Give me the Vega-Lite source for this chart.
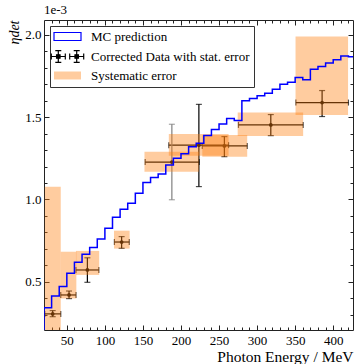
{
  "$schema": "https://vega.github.io/schema/vega-lite/v6.json",
  "width": 309,
  "height": 310,
  "autosize": {"type": "none"},
  "padding": {"left": 44, "top": 20, "right": 1, "bottom": 34},
  "title": {"text": "1e-3", "anchor": "start", "frame": "group", "fontSize": 13, "font": "Liberation Serif", "fontWeight": "normal", "color": "black", "offset": 3},
  "config": {
    "font": "Liberation Serif",
    "view": {"stroke": "#222", "strokeWidth": 1},
    "axis": {"labelFont": "Liberation Serif", "labelFontSize": 13, "labelColor": "black", "tickColor": "#222", "tickWidth": 1, "grid": false, "domain": false, "titleFont": "Liberation Serif", "titleFontWeight": "normal", "titleColor": "black"},
    "legend": {"orient": "top-left", "offset": 6, "labelFont": "Liberation Serif", "labelFontSize": 13, "labelColor": "black", "symbolSize": 100, "symbolOffset": 7, "symbolStrokeWidth": 1.2, "symbolOpacity": 1, "labelOffset": 17, "rowPadding": 4, "padding": 4, "strokeColor": "#333", "fillColor": "white", "cornerRadius": 0, "labelLimit": 300}
  },
  "datasets": {
    "mc": [
      {"e": 20, "mc": 0.0},
      {"e": 20, "mc": 0.342}, {"e": 30, "mc": 0.413}, {"e": 40, "mc": 0.470}, {"e": 50, "mc": 0.551},
      {"e": 60, "mc": 0.618}, {"e": 70, "mc": 0.667}, {"e": 80, "mc": 0.707}, {"e": 90, "mc": 0.760},
      {"e": 100, "mc": 0.825}, {"e": 110, "mc": 0.892}, {"e": 120, "mc": 0.940}, {"e": 130, "mc": 0.977},
      {"e": 140, "mc": 1.038}, {"e": 150, "mc": 1.103}, {"e": 160, "mc": 1.134}, {"e": 170, "mc": 1.155},
      {"e": 180, "mc": 1.209}, {"e": 190, "mc": 1.251}, {"e": 200, "mc": 1.277}, {"e": 210, "mc": 1.321},
      {"e": 220, "mc": 1.342}, {"e": 230, "mc": 1.389}, {"e": 240, "mc": 1.425}, {"e": 250, "mc": 1.459},
      {"e": 260, "mc": 1.492}, {"e": 270, "mc": 1.480}, {"e": 280, "mc": 1.600}, {"e": 290, "mc": 1.613},
      {"e": 300, "mc": 1.630}, {"e": 310, "mc": 1.646}, {"e": 320, "mc": 1.670}, {"e": 330, "mc": 1.700},
      {"e": 340, "mc": 1.712}, {"e": 350, "mc": 1.742}, {"e": 360, "mc": 1.727}, {"e": 370, "mc": 1.792},
      {"e": 380, "mc": 1.808}, {"e": 390, "mc": 1.830}, {"e": 400, "mc": 1.850}, {"e": 410, "mc": 1.872},
      {"e": 420, "mc": 1.868}, {"e": 426, "mc": 1.868}
    ],
    "pts": [
      {"e": 31.4, "v": 0.304, "elo": 21, "ehi": 42, "vlo": 0.287, "vhi": 0.324},
      {"e": 52.9, "v": 0.419, "elo": 42, "ehi": 62, "vlo": 0.397, "vhi": 0.443},
      {"e": 77, "v": 0.571, "elo": 62, "ehi": 92, "vlo": 0.496, "vhi": 0.645},
      {"e": 122, "v": 0.741, "elo": 112.5, "ehi": 132, "vlo": 0.703, "vhi": 0.774},
      {"e": 188, "v": 1.227, "elo": 153, "ehi": 224, "vlo": 0.998, "vhi": 1.457},
      {"e": 223.5, "v": 1.330, "elo": 184, "ehi": 262.5, "vlo": 1.078, "vhi": 1.578},
      {"e": 257, "v": 1.325, "elo": 228, "ehi": 287, "vlo": 1.260, "vhi": 1.382},
      {"e": 318, "v": 1.453, "elo": 275.5, "ehi": 360.5, "vlo": 1.388, "vhi": 1.516},
      {"e": 385.4, "v": 1.589, "elo": 351, "ehi": 420, "vlo": 1.504, "vhi": 1.662}
    ],
    "sys": [
      {"elo": 21, "ehi": 42, "vlo": 0.15, "vhi": 1.077},
      {"elo": 42, "ehi": 62.5, "vlo": 0.398, "vhi": 0.682},
      {"elo": 62, "ehi": 92.5, "vlo": 0.541, "vhi": 0.687},
      {"elo": 112, "ehi": 132.5, "vlo": 0.701, "vhi": 0.810},
      {"elo": 152, "ehi": 223.5, "vlo": 1.169, "vhi": 1.290},
      {"elo": 184, "ehi": 262.5, "vlo": 1.265, "vhi": 1.398},
      {"elo": 228, "ehi": 287, "vlo": 1.260, "vhi": 1.392},
      {"elo": 274.5, "ehi": 360.5, "vlo": 1.386, "vhi": 1.528},
      {"elo": 350.5, "ehi": 419.5, "vlo": 1.514, "vhi": 1.990}
    ],
    "leg": [
      {"series": "MC prediction"},
      {"series": "Corrected Data with stat. error"},
      {"series": "Systematic error"}
    ]
  },
  "resolve": {"axis": {"x": "independent", "y": "independent"}},
  "layer": [
    {
      "data": {"name": "pts"},
      "mark": {"type": "rule", "strokeWidth": 1.2, "color": "black"},
      "encoding": {
        "x": {"field": "elo", "type": "quantitative", "scale": {"domain": [20, 426], "nice": false, "zero": false},
              "axis": {"orient": "bottom", "values": [50, 100, 150, 200, 250, 300, 350, 400], "tickSize": -5, "labelPadding": 9, "labelFlush": false,
                       "title": "Photon Energy / MeV", "titleFontSize": 15.5, "titleAnchor": "end", "titleAlign": "right", "titleBaseline": "alphabetic", "titleX": 309, "titleY": 31}},
        "x2": {"field": "ehi"},
        "y": {"field": "v", "type": "quantitative", "scale": {"domain": [0.206, 2.091], "nice": false, "zero": false},
              "axis": {"orient": "left", "values": [0.5, 1.0, 1.5, 2.0], "format": ".1f", "tickSize": -5, "labelPadding": 8,
                       "title": "ηdet", "titleFontSize": 14, "titleFontStyle": "italic", "titleAngle": 270, "titleAlign": "right", "titleBaseline": "alphabetic", "titleX": -26, "titleY": 0}}
      }
    },
    {
      "data": {"name": "pts"},
      "mark": {"type": "rule", "strokeWidth": 1.2},
      "encoding": {
        "x": {"field": "e", "type": "quantitative", "scale": {"domain": [20, 426], "nice": false, "zero": false},
              "axis": {"orient": "bottom", "values": [30, 40, 60, 70, 80, 90, 110, 120, 130, 140, 160, 170, 180, 190, 210, 220, 230, 240, 260, 270, 280, 290, 310, 320, 330, 340, 360, 370, 380, 390, 410, 420], "tickSize": -3, "labels": false, "title": null}},
        "y": {"field": "vlo", "type": "quantitative", "scale": {"domain": [0.206, 2.091], "nice": false, "zero": false},
              "axis": {"orient": "left", "values": [0.3, 0.4, 0.6, 0.7, 0.8, 0.9, 1.1, 1.2, 1.3, 1.4, 1.6, 1.7, 1.8, 1.9], "tickSize": -3, "labels": false, "title": null}},
        "y2": {"field": "vhi"},
        "color": {"condition": {"test": "datum.e == 188", "value": "#808080"}, "value": "black"}
      }
    },
    {
      "data": {"name": "pts"},
      "mark": {"type": "tick", "orient": "vertical", "size": 6, "thickness": 1.2, "color": "black"},
      "encoding": {
        "x": {"field": "elo", "type": "quantitative", "scale": {"domain": [20, 426], "nice": false, "zero": false},
              "axis": {"orient": "top", "values": [50, 100, 150, 200, 250, 300, 350, 400], "tickSize": -5, "labels": false, "title": null}},
        "y": {"field": "v", "type": "quantitative", "scale": {"domain": [0.206, 2.091], "nice": false, "zero": false},
              "axis": {"orient": "right", "values": [0.5, 1.0, 1.5, 2.0], "tickSize": -5, "labels": false, "title": null}}
      }
    },
    {
      "data": {"name": "pts"},
      "mark": {"type": "tick", "orient": "vertical", "size": 6, "thickness": 1.2, "color": "black"},
      "encoding": {
        "x": {"field": "ehi", "type": "quantitative", "scale": {"domain": [20, 426], "nice": false, "zero": false},
              "axis": {"orient": "top", "values": [30, 40, 60, 70, 80, 90, 110, 120, 130, 140, 160, 170, 180, 190, 210, 220, 230, 240, 260, 270, 280, 290, 310, 320, 330, 340, 360, 370, 380, 390, 410, 420], "tickSize": -3, "labels": false, "title": null}},
        "y": {"field": "v", "type": "quantitative", "scale": {"domain": [0.206, 2.091], "nice": false, "zero": false},
              "axis": {"orient": "right", "values": [0.3, 0.4, 0.6, 0.7, 0.8, 0.9, 1.1, 1.2, 1.3, 1.4, 1.6, 1.7, 1.8, 1.9], "tickSize": -3, "labels": false, "title": null}}
      }
    },
    {
      "data": {"name": "pts"},
      "mark": {"type": "tick", "orient": "horizontal", "size": 6, "thickness": 1.2},
      "encoding": {
        "x": {"field": "e", "type": "quantitative", "scale": {"domain": [20, 426], "nice": false, "zero": false}, "axis": null},
        "y": {"field": "vlo", "type": "quantitative", "scale": {"domain": [0.206, 2.091], "nice": false, "zero": false}, "axis": null},
        "color": {"condition": {"test": "datum.e == 188", "value": "#808080"}, "value": "black"}
      }
    },
    {
      "data": {"name": "pts"},
      "mark": {"type": "tick", "orient": "horizontal", "size": 6, "thickness": 1.2},
      "encoding": {
        "x": {"field": "e", "type": "quantitative", "scale": {"domain": [20, 426], "nice": false, "zero": false}, "axis": null},
        "y": {"field": "vhi", "type": "quantitative", "scale": {"domain": [0.206, 2.091], "nice": false, "zero": false}, "axis": null},
        "color": {"condition": {"test": "datum.e == 188", "value": "#808080"}, "value": "black"}
      }
    },
    {
      "data": {"name": "pts"},
      "mark": {"type": "point", "filled": true, "size": 14, "shape": "circle", "color": "black", "opacity": 1},
      "encoding": {
        "x": {"field": "e", "type": "quantitative", "scale": {"domain": [20, 426], "nice": false, "zero": false}, "axis": null},
        "y": {"field": "v", "type": "quantitative", "scale": {"domain": [0.206, 2.091], "nice": false, "zero": false}, "axis": null}
      }
    },
    {
      "data": {"name": "sys"},
      "mark": {"type": "rect", "color": "#ff7f0e", "opacity": 0.4, "clip": true},
      "encoding": {
        "x": {"field": "elo", "type": "quantitative", "scale": {"domain": [20, 426], "nice": false, "zero": false}, "axis": null},
        "x2": {"field": "ehi"},
        "y": {"field": "vlo", "type": "quantitative", "scale": {"domain": [0.206, 2.091], "nice": false, "zero": false}, "axis": null},
        "y2": {"field": "vhi"}
      }
    },
    {
      "data": {"name": "mc"},
      "mark": {"type": "line", "interpolate": "step-after", "color": "#0000ff", "strokeWidth": 1.5, "clip": true},
      "encoding": {
        "x": {"field": "e", "type": "quantitative", "scale": {"domain": [20, 426], "nice": false, "zero": false}, "axis": null},
        "y": {"field": "mc", "type": "quantitative", "scale": {"domain": [0.206, 2.091], "nice": false, "zero": false}, "axis": null}
      }
    },
    {
      "data": {"name": "leg"},
      "mark": {"type": "point", "filled": true, "opacity": 0},
      "encoding": {
        "shape": {"field": "series", "type": "nominal", "title": null,
                  "legend": {"labelFont": "Liberation Serif", "labelFontSize": 13},
                  "scale": {"domain": ["MC prediction", "Corrected Data with stat. error", "Systematic error"],
                            "range": ["M-2.7,-0.8H2.7V0.8H-2.7Z",
                                      "M-3.24,0H-0.44M-3.24,-0.6V0.6M-0.44,-0.6V0.6M-1.84,-1.16V1.16M-2.44,-1.16H-1.24M-2.44,1.16H-1.24M-2.19,-0.35H-1.49V0.35H-2.19ZM0.44,0H3.24M0.44,-0.6V0.6M3.24,-0.6V0.6M1.84,-1.16V1.16M1.24,-1.16H2.44M1.24,1.16H2.44M1.49,-0.35H2.19V0.35H1.49Z",
                                      "M-2.7,-0.8H2.7V0.8H-2.7Z"]}},
        "fill": {"field": "series", "type": "nominal", "title": null,
                 "scale": {"domain": ["MC prediction", "Corrected Data with stat. error", "Systematic error"],
                           "range": ["transparent", "black", "#ffcc9f"]}},
        "stroke": {"field": "series", "type": "nominal", "title": null,
                   "scale": {"domain": ["MC prediction", "Corrected Data with stat. error", "Systematic error"],
                             "range": ["#0000ff", "black", "transparent"]}}
      }
    }
  ]
}
